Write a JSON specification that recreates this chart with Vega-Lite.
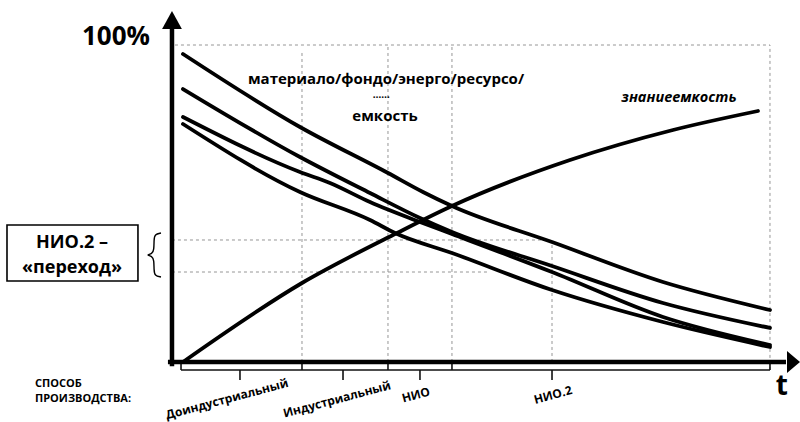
{
  "$schema": "https://vega.github.io/schema/vega-lite/v6.json",
  "width": 800,
  "height": 422,
  "padding": 0,
  "autosize": {"type": "none"},
  "background": "white",
  "config": {"view": {"stroke": null}},
  "datasets": {
    "lines": [
      {"s": "A", "x": 1.84, "y": 97.16}, {"s": "A", "x": 21.4, "y": 74.13}, {"s": "A", "x": 36.12, "y": 59.62}, {"s": "A", "x": 41.97, "y": 53.63}, {"s": "A", "x": 46.82, "y": 49.21}, {"s": "A", "x": 63.55, "y": 37.85}, {"s": "A", "x": 82.11, "y": 25.24}, {"s": "A", "x": 100, "y": 16.4},
      {"s": "B", "x": 1.84, "y": 86.12}, {"s": "B", "x": 21.4, "y": 64.67}, {"s": "B", "x": 33.11, "y": 53.31}, {"s": "B", "x": 41.47, "y": 45.43}, {"s": "B", "x": 46.82, "y": 41.01}, {"s": "B", "x": 63.55, "y": 30.28}, {"s": "B", "x": 82.11, "y": 18.61}, {"s": "B", "x": 100, "y": 10.73},
      {"s": "C", "x": 1.84, "y": 77.29}, {"s": "C", "x": 21.4, "y": 59.94}, {"s": "C", "x": 26.42, "y": 56.47}, {"s": "C", "x": 33.11, "y": 50.47}, {"s": "C", "x": 41.47, "y": 44.16}, {"s": "C", "x": 46.82, "y": 40.38}, {"s": "C", "x": 63.55, "y": 28.39}, {"s": "C", "x": 82.11, "y": 14.2}, {"s": "C", "x": 100, "y": 5.36},
      {"s": "D", "x": 1.84, "y": 75.08}, {"s": "D", "x": 21.4, "y": 53.63}, {"s": "D", "x": 33.11, "y": 44.79}, {"s": "D", "x": 37.29, "y": 40.69}, {"s": "D", "x": 46.82, "y": 34.38}, {"s": "D", "x": 63.55, "y": 22.71}, {"s": "D", "x": 82.11, "y": 12.62}, {"s": "D", "x": 100, "y": 4.73},
      {"s": "E", "x": 1.84, "y": 0}, {"s": "E", "x": 21.74, "y": 24.92}, {"s": "E", "x": 37.63, "y": 40.69}, {"s": "E", "x": 46.82, "y": 49.21}, {"s": "E", "x": 66.56, "y": 63.72}, {"s": "E", "x": 83.78, "y": 73.19}, {"s": "E", "x": 97.99, "y": 79.18}
    ],
    "grid": [
      {"x": 0.5, "x2": 100, "y": 100, "y2": 100},
      {"x": 21.74, "x2": 21.74, "y": 0, "y2": 98.4},
      {"x": 36.12, "x2": 36.12, "y": 0, "y2": 100},
      {"x": 46.82, "x2": 46.82, "y": 0, "y2": 100},
      {"x": 100, "x2": 100, "y": -2.5, "y2": 100},
      {"x": 63.55, "x2": 63.55, "y": 0, "y2": 37.85},
      {"x": 0, "x2": 62.04, "y": 38.49, "y2": 38.49},
      {"x": 0, "x2": 52.68, "y": 28.39, "y2": 28.39}
    ],
    "bracket": [
      {"x": 1.51, "x2": 100, "y": -2.52, "y2": -2.52},
      {"x": 1.51, "x2": 1.51, "y": -2.52, "y2": -0.63},
      {"x": 21.74, "x2": 21.74, "y": -2.52, "y2": -0.63},
      {"x": 36.12, "x2": 36.12, "y": -2.52, "y2": -0.63},
      {"x": 46.82, "x2": 46.82, "y": -2.52, "y2": -0.63},
      {"x": 100, "x2": 100, "y": -2.52, "y2": -0.63},
      {"x": 11.37, "x2": 11.37, "y": -2.52, "y2": -5.68},
      {"x": 28.6, "x2": 28.6, "y": -2.52, "y2": -5.68},
      {"x": 41.47, "x2": 41.47, "y": -2.52, "y2": -5.68},
      {"x": 63.55, "x2": 63.55, "y": -2.52, "y2": -5.68}
    ],
    "axes": [
      {"x": 0, "x2": 0, "y": -0.6, "y2": 105.0},
      {"x": -0.3, "x2": 102.3, "y": 0, "y2": 0}
    ],
    "brace": [
      {"o": 1, "x": -1.84, "y": 40.69}, {"o": 2, "x": -2.9, "y": 40.3}, {"o": 3, "x": -3.01, "y": 38.5}, {"o": 4, "x": -3.01, "y": 35.4}, {"o": 5, "x": -3.3, "y": 34.1}, {"o": 6, "x": -4.35, "y": 33.75},
      {"o": 7, "x": -3.3, "y": 33.4}, {"o": 8, "x": -3.01, "y": 32.1}, {"o": 9, "x": -3.01, "y": 29.0}, {"o": 10, "x": -2.9, "y": 27.2}, {"o": 11, "x": -1.84, "y": 26.81}
    ],
    "box": [{"x": -27.59, "x2": -5.69, "y": 43.22, "y2": 25.55}],
    "caption": [
      {"x": 35.79, "y": 87.7, "text": "материало/фондо/энерго/ресурсо/"},
      {"x": 35.62, "y": 76.03, "text": "емкость"}
    ],
    "dots": [{"x": 35.0, "y": 83.3, "text": "……"}],
    "znanie": [{"x": 84.78, "y": 82.02, "text": "знаниеемкость"}],
    "boxtext": [
      {"x": -16.72, "y": 35.96, "text": "НИО.2 –"},
      {"x": -16.72, "y": 28.08, "text": "«переход»"}
    ],
    "sposob": [
      {"x": -22.91, "y": -7.89, "text": "СПОСОБ"},
      {"x": -22.91, "y": -12.62, "text": "ПРОИЗВОДСТВА:"}
    ],
    "stages": [
      {"x": 9.2, "y": -11.7, "text": "Доиндустриальный"},
      {"x": 27.59, "y": -11.8, "text": "Индустриальный"},
      {"x": 40.8, "y": -10.41, "text": "НИО"},
      {"x": 63.71, "y": -10.41, "text": "НИО.2"}
    ],
    "pct": [{"x": -3.68, "y": 100, "text": "100%"}],
    "tlabel": [{"x": 102.0, "y": -10.41, "text": "t"}],
    "yarrow": [{"x": 0, "y": 107.89}],
    "xarrow": [{"x": 103.93, "y": 0}]
  },
  "encoding": {
    "x": {"field": "x", "type": "quantitative", "scale": {"domain": [-28.76, 105.02], "nice": false, "zero": false}, "axis": null},
    "y": {"field": "y", "type": "quantitative", "scale": {"domain": [-18.93, 114.2], "nice": false, "zero": false}, "axis": null}
  },
  "layer": [
    {"data": {"name": "grid"}, "mark": {"type": "rule", "stroke": "#8a8a8a", "strokeWidth": 0.9, "strokeDash": [3, 3]},
      "encoding": {"x2": {"field": "x2"}, "y2": {"field": "y2"}}},
    {"data": {"name": "bracket"}, "mark": {"type": "rule", "stroke": "#111", "strokeWidth": 1.6},
      "encoding": {"x2": {"field": "x2"}, "y2": {"field": "y2"}}},
    {"data": {"name": "lines"}, "mark": {"type": "line", "stroke": "#000", "strokeWidth": 3.8, "interpolate": "monotone", "strokeCap": "round"},
      "encoding": {"detail": {"field": "s"}}},
    {"data": {"name": "axes"}, "mark": {"type": "rule", "stroke": "#000", "strokeWidth": 4.5, "strokeCap": "square"},
      "encoding": {"x2": {"field": "x2"}, "y2": {"field": "y2"}}},
    {"data": {"name": "yarrow"}, "mark": {"type": "point", "shape": "M0,-1L1.1,1L-1.1,1Z", "size": 324, "filled": true, "fill": "#000", "opacity": 1, "strokeWidth": 0}},
    {"data": {"name": "xarrow"}, "mark": {"type": "point", "shape": "M1,0L-1,-1.7L-1,1.7Z", "size": 169, "filled": true, "fill": "#000", "opacity": 1, "strokeWidth": 0}},
    {"data": {"name": "box"}, "mark": {"type": "rect", "fill": "white", "stroke": "#000", "strokeWidth": 1.6},
      "encoding": {"x2": {"field": "x2"}, "y2": {"field": "y2"}}},
    {"data": {"name": "brace"}, "mark": {"type": "line", "stroke": "#000", "strokeWidth": 1.4, "interpolate": "basis"},
      "encoding": {"order": {"field": "o"}}},
    {"data": {"name": "caption"}, "mark": {"type": "text", "font": "Open Sans", "fontWeight": "bold", "fontSize": 15, "align": "center", "baseline": "alphabetic", "color": "#000"},
      "encoding": {"text": {"field": "text"}}},
    {"data": {"name": "dots"}, "mark": {"type": "text", "font": "Open Sans", "fontWeight": "bold", "fontSize": 10, "align": "center", "baseline": "alphabetic", "color": "#000"},
      "encoding": {"text": {"field": "text"}}},
    {"data": {"name": "znanie"}, "mark": {"type": "text", "font": "Open Sans", "fontWeight": "bold", "fontStyle": "italic", "fontSize": 14.5, "align": "center", "baseline": "alphabetic", "color": "#000"},
      "encoding": {"text": {"field": "text"}}},
    {"data": {"name": "boxtext"}, "mark": {"type": "text", "font": "Open Sans", "fontWeight": "bold", "fontSize": 18, "align": "center", "baseline": "alphabetic", "color": "#000"},
      "encoding": {"text": {"field": "text"}}},
    {"data": {"name": "sposob"}, "mark": {"type": "text", "font": "Open Sans", "fontWeight": "bold", "fontSize": 11, "align": "left", "baseline": "alphabetic", "color": "#000"},
      "encoding": {"text": {"field": "text"}}},
    {"data": {"name": "stages"}, "mark": {"type": "text", "font": "Open Sans", "fontWeight": "bold", "fontSize": 12, "angle": 345, "align": "center", "baseline": "middle", "color": "#000"},
      "encoding": {"text": {"field": "text"}}},
    {"data": {"name": "pct"}, "mark": {"type": "text", "font": "Open Sans", "fontWeight": "bold", "fontSize": 26, "align": "right", "baseline": "alphabetic", "color": "#000"},
      "encoding": {"text": {"field": "text"}}},
    {"data": {"name": "tlabel"}, "mark": {"type": "text", "font": "Open Sans", "fontWeight": "bold", "fontSize": 28, "align": "center", "baseline": "alphabetic", "color": "#000"},
      "encoding": {"text": {"field": "text"}}}
  ]
}
